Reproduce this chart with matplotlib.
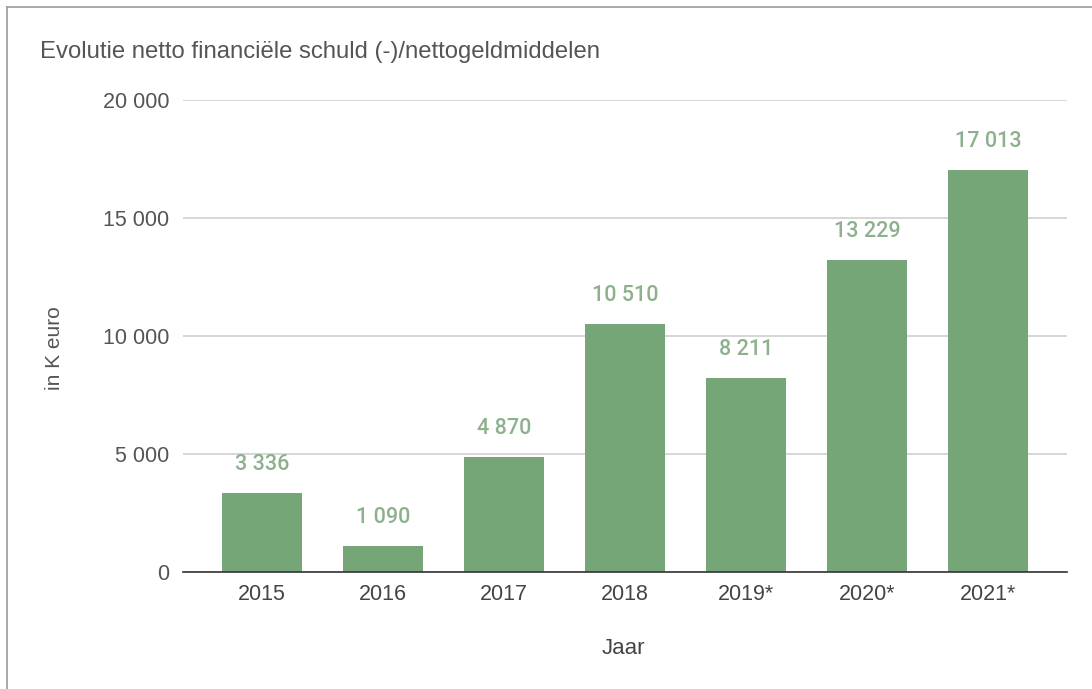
import matplotlib
matplotlib.use("Agg")
import matplotlib.pyplot as plt
from matplotlib.lines import Line2D

years = ["2015", "2016", "2017", "2018", "2019*", "2020*", "2021*"]
values = [3336, 1090, 4870, 10510, 8211, 13229, 17013]
yticks = [0, 5000, 10000, 15000, 20000]

def fmt(v):
    return f"{v:,}".replace(",", " ")

plt.rcParams['font.family'] = ['Roboto', 'DejaVu Sans']
sans = ["Arial", "Liberation Sans", "DejaVu Sans"]

fig = plt.figure(figsize=(10.92, 6.89), dpi=100)
ax = fig.add_axes([183/1092, 1-572/689, (1067-183)/1092, (572-100)/689])

bar_color = "#76a577"
label_color = "#8db08d"
x = list(range(len(years)))
ax.bar(x, values, width=0.66, color=bar_color, zorder=3)
for xi, v in zip(x, values):
    ax.annotate(fmt(v), (xi, v), xytext=(0, 13), textcoords="offset points",
                ha="center", va="bottom", fontsize=15.5, color=label_color,
                fontweight="medium")

ax.set_xlim(-0.65, 6.65)
ax.set_ylim(0, 20000)
ax.set_yticks(yticks)
ax.set_yticklabels([fmt(t) for t in yticks], fontsize=15.5, color="#555555",
                   family=sans)
ax.set_xticks(x)
ax.set_xticklabels(years, fontsize=15.5, color="#444444", family=sans)
ax.tick_params(axis="x", length=0, pad=9)
ax.tick_params(axis="y", length=0, pad=10)
ax.yaxis.grid(True, color="#d0d0d0", linewidth=1.2, zorder=0)
ax.set_axisbelow(True)
for s in ["top", "right", "left"]:
    ax.spines[s].set_visible(False)
ax.spines["bottom"].set_color("#333333")
ax.spines["bottom"].set_linewidth(1.2)
ax.spines["bottom"].set_zorder(4)

fig.text(40/1092, 1-52/689, "Evolutie netto financiële schuld (-)/nettogeldmiddelen",
         fontsize=17.2, color="#555555", va="center", ha="left", family=sans)
fig.text(55/1092, 1-348/689, "in K euro", rotation=90, fontsize=15,
         color="#555555", va="center", ha="center", family=sans)
fig.text(623/1092, 1-648/689, "Jaar", fontsize=16, color="#444444",
         va="center", ha="center", family=sans)

fig.add_artist(Line2D([7/1092, 1], [1-7/689, 1-7/689], color="#9a9a9a", lw=1.2,
                      transform=fig.transFigure))
fig.add_artist(Line2D([7/1092, 7/1092], [0, 1-7/689], color="#9a9a9a", lw=1.2,
                      transform=fig.transFigure))

fig.savefig("out.png", dpi=100)
